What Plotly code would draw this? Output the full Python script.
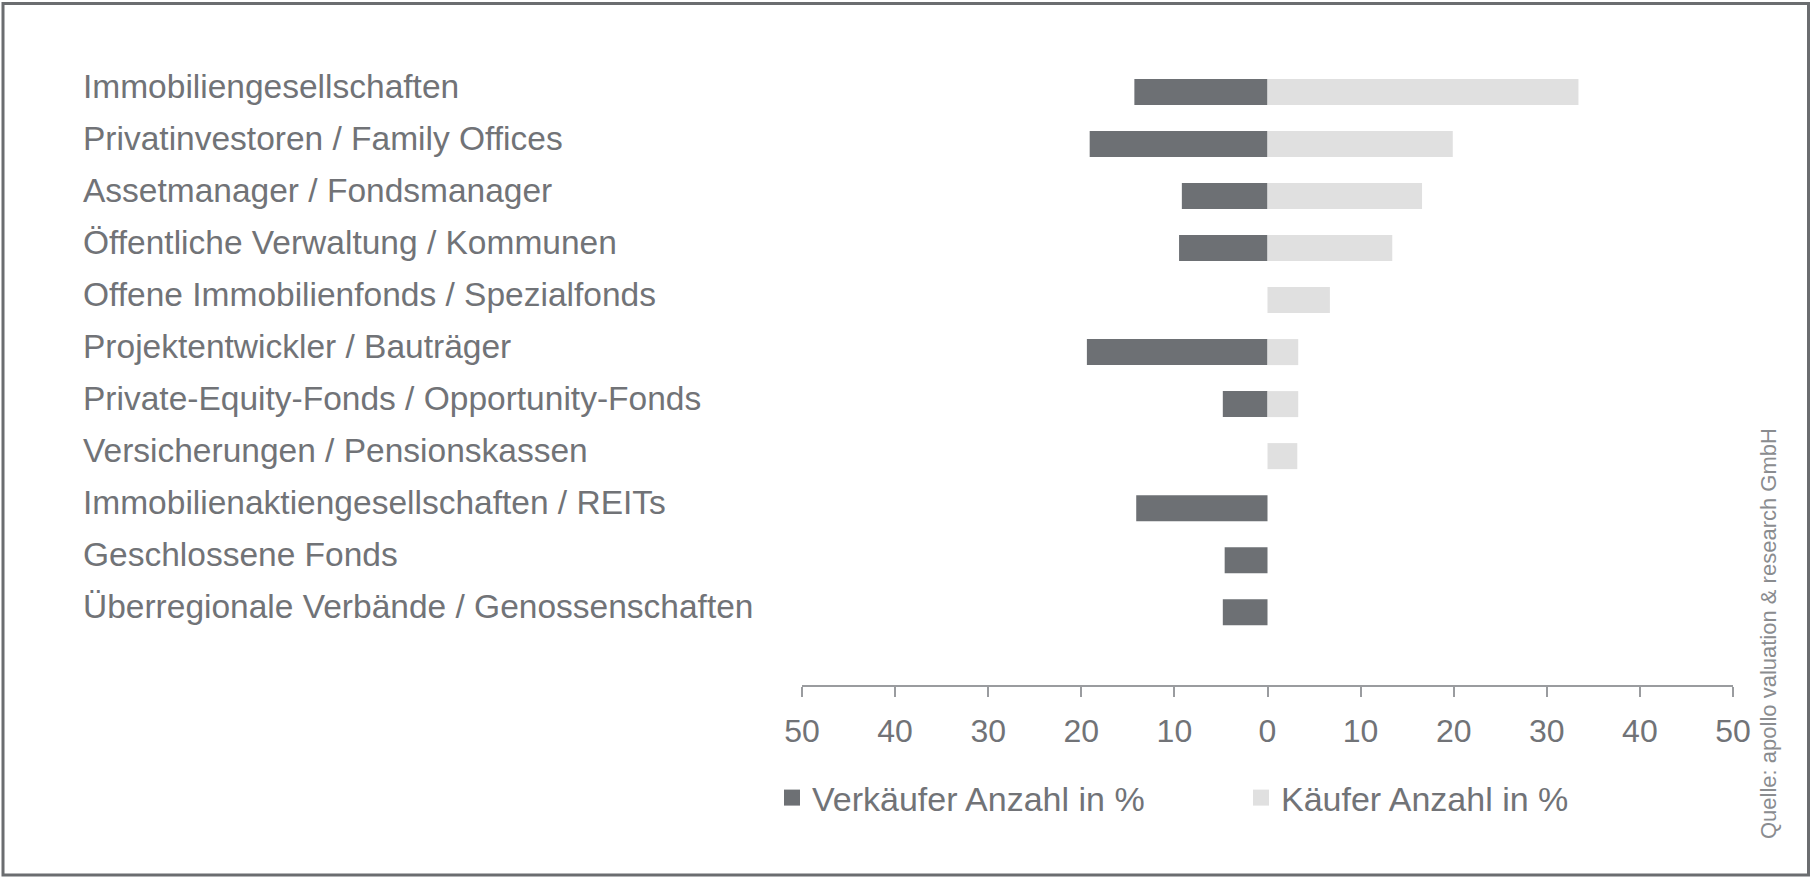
import plotly.graph_objects as go

categories = [
    "Immobiliengesellschaften",
    "Privatinvestoren / Family Offices",
    "Assetmanager / Fondsmanager",
    "Öffentliche Verwaltung / Kommunen",
    "Offene Immobilienfonds / Spezialfonds",
    "Projektentwickler / Bauträger",
    "Private-Equity-Fonds / Opportunity-Fonds",
    "Versicherungen / Pensionskassen",
    "Immobilienaktiengesellschaften / REITs",
    "Geschlossene Fonds",
    "Überregionale Verbände / Genossenschaften",
]
verkaeufer = [14.3, 19.1, 9.2, 9.5, 0.0, 19.4, 4.8, 0.0, 14.1, 4.6, 4.8]
kaeufer = [33.4, 19.9, 16.6, 13.4, 6.7, 3.3, 3.3, 3.2, 0.0, 0.0, 0.0]
tick_vals = [-50, -40, -30, -20, -10, 0, 10, 20, 30, 40, 50]
tick_text = ["50", "40", "30", "20", "10", "0", "10", "20", "30", "40", "50"]
series_names = ["Verkäufer Anzahl in %", "Käufer Anzahl in %"]
source_text = "Quelle: apollo valuation & research GmbH"

DARK = "#6d7074"
LIGHT = "#e0e0e0"
TEXT = "#717377"
AXIS = "#9a9c9f"
FONT = "Liberation Sans, Arial, sans-serif"

fig = go.Figure()
for vals, name, color, grp in [
    ([-v for v in verkaeufer], series_names[0], DARK, "v"),
    (kaeufer, series_names[1], LIGHT, "k"),
]:
    fig.add_trace(go.Bar(
        y=categories, x=vals, orientation="h",
        name=name, marker=dict(color=color, line=dict(width=0)),
        hoverinfo="skip", showlegend=False, legendgroup=grp,
    ))
    # legend proxy with a larger square symbol
    fig.add_trace(go.Scatter(
        x=[None], y=[None], mode="markers", name=name, legendgroup=grp,
        marker=dict(symbol="square", size=16, color=color),
        hoverinfo="skip", showlegend=True,
    ))

W, H = 1812, 884
ml, mr, mt, mb = 802, 79, 66, 199
pw = W - ml - mr
ph = H - mt - mb

def px_x(px):
    return (px - ml) / pw

def px_y(py):
    return (H - mb - py) / ph

for c in categories:
    fig.add_annotation(
        x=px_x(81), xref="paper", y=c, yref="y",
        text=c, showarrow=False, xanchor="left", yanchor="middle",
        font=dict(family=FONT, size=33.5, color=TEXT), yshift=6,
    )

fig.add_annotation(
    x=px_x(1768), xref="paper", y=px_y(634), yref="paper",
    text=source_text, textangle=-90, showarrow=False,
    xanchor="center", yanchor="middle",
    font=dict(family=FONT, size=22, color="#8a8c8f"),
)

fig.add_shape(
    type="rect", xref="paper", yref="paper",
    x0=px_x(3), x1=px_x(1808.5), y0=px_y(875), y1=px_y(3.5),
    line=dict(color="#6b6d70", width=3), layer="below",
)

fig.update_layout(
    width=W, height=H,
    margin=dict(l=ml, r=mr, t=mt, b=mb, pad=0),
    paper_bgcolor="white", plot_bgcolor="white",
    barmode="overlay", bargap=0.5,
    font=dict(family=FONT, color=TEXT, size=32),
    showlegend=True,
    legend=dict(
        orientation="h", x=px_x(772), xanchor="left",
        y=px_y(798), yanchor="middle",
        font=dict(family=FONT, size=34, color=TEXT),
        entrywidth=424, entrywidthmode="pixels",
        bgcolor="rgba(0,0,0,0)", traceorder="normal",
        itemclick=False, itemdoubleclick=False,
    ),
    xaxis=dict(
        range=[-50, 50], tickvals=tick_vals, ticktext=tick_text,
        showgrid=False, zeroline=False, showline=True,
        linecolor=AXIS, linewidth=1.5, ticks="outside", ticklen=10,
        tickcolor=AXIS, tickwidth=1.5, ticklabelstandoff=7,
        tickfont=dict(family=FONT, size=32, color=TEXT),
        fixedrange=True,
    ),
    yaxis=dict(
        categoryorder="array", categoryarray=categories,
        range=[11.4, -0.5], showticklabels=False, showgrid=False,
        zeroline=False, showline=False, ticks="", fixedrange=True,
    ),
)

fig.write_html(
    "out.html",
    config={"displayModeBar": False},
    post_script="document.body.style.margin='0';document.body.style.overflow='hidden';",
)
